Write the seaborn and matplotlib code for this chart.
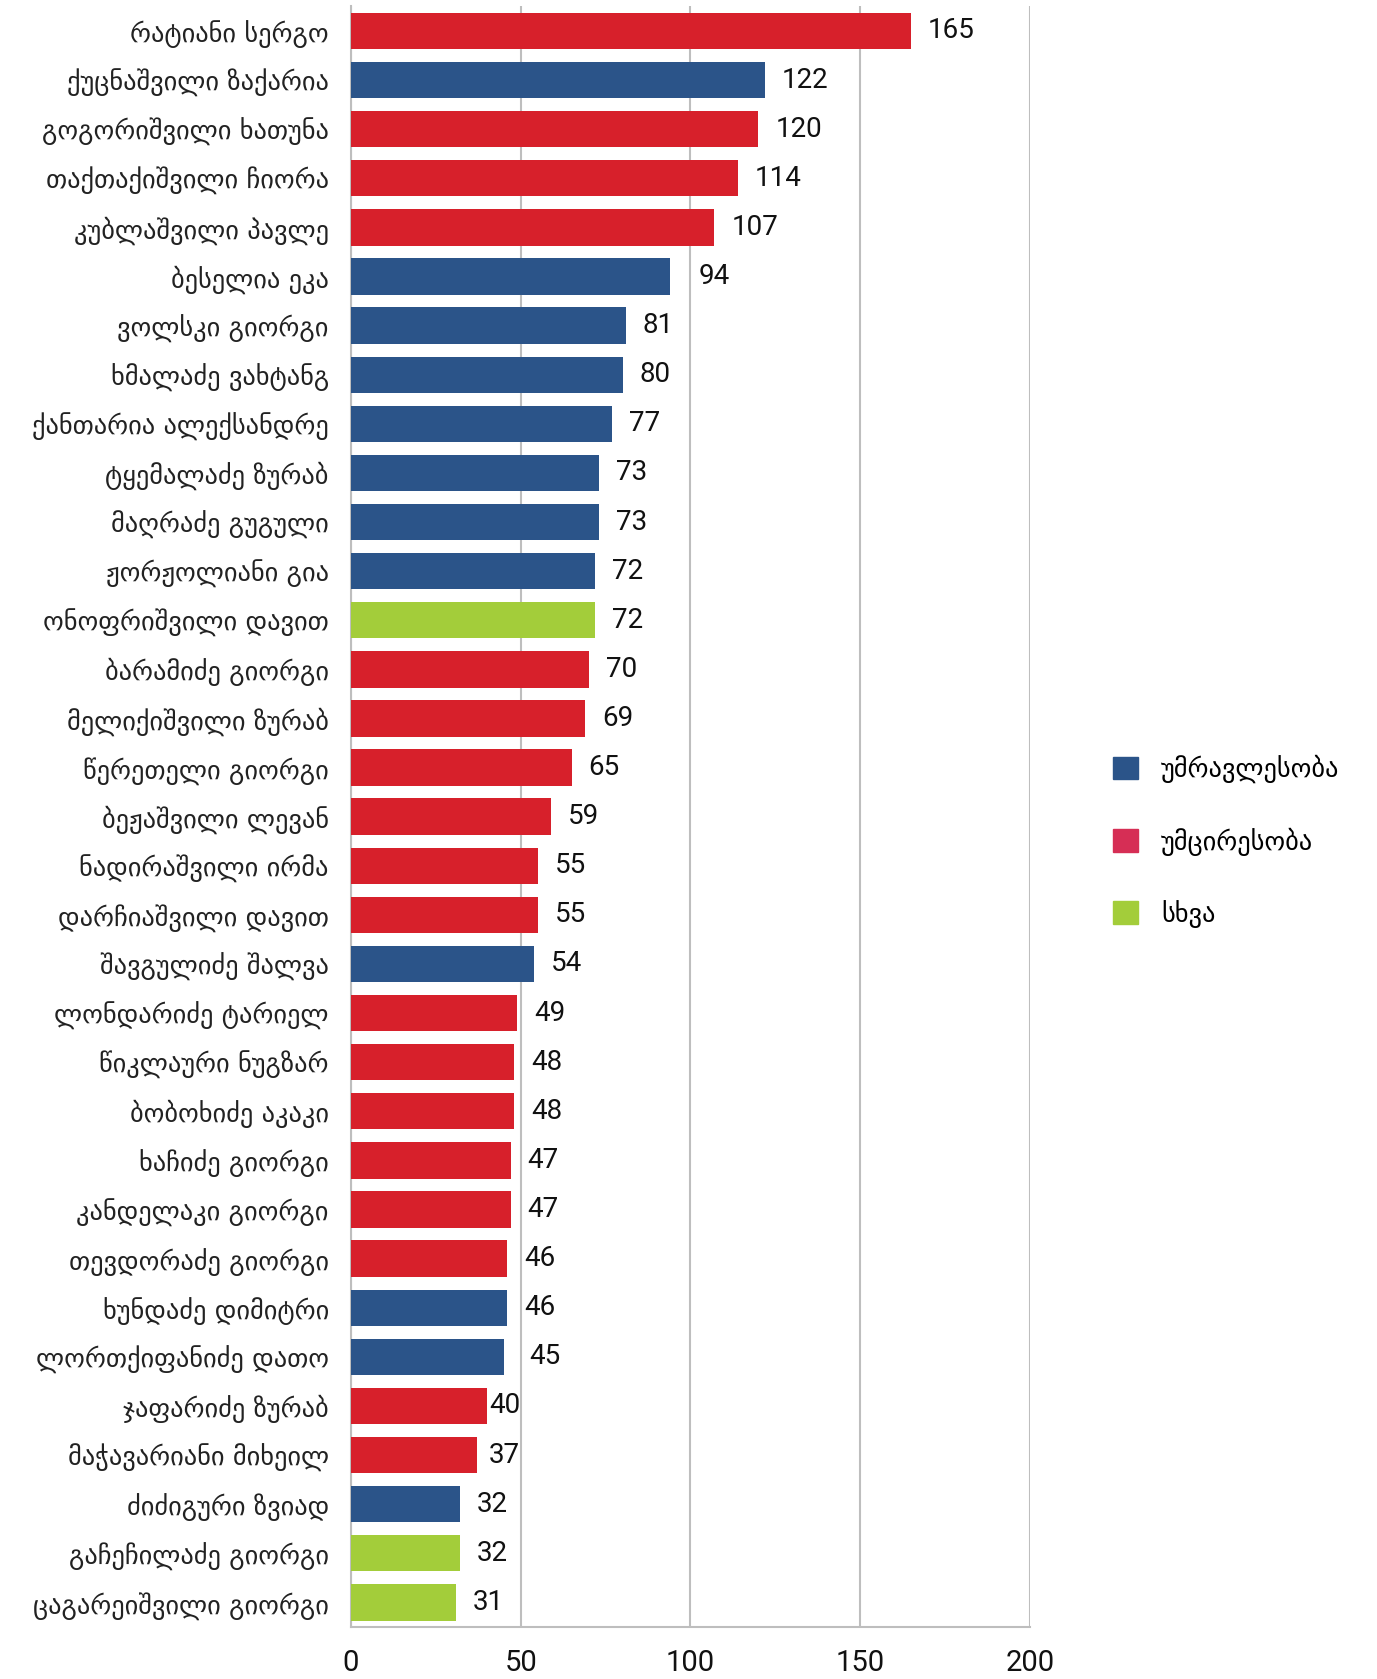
import matplotlib
matplotlib.use('Agg')
import matplotlib.pyplot as plt
import matplotlib.patches as mpatches
import pandas as pd
import seaborn as sns

names = [
    'რატიანი სერგო', 'ქუცნაშვილი ზაქარია', 'გოგორიშვილი ხათუნა', 'თაქთაქიშვილი ჩიორა',
    'კუბლაშვილი პავლე', 'ბესელია ეკა', 'ვოლსკი გიორგი', 'ხმალაძე ვახტანგ',
    'ქანთარია ალექსანდრე', 'ტყემალაძე ზურაბ', 'მაღრაძე გუგული', 'ჟორჟოლიანი გია',
    'ონოფრიშვილი დავით', 'ბარამიძე გიორგი', 'მელიქიშვილი ზურაბ', 'წერეთელი გიორგი',
    'ბეჟაშვილი ლევან', 'ნადირაშვილი ირმა', 'დარჩიაშვილი დავით', 'შავგულიძე შალვა',
    'ლონდარიძე ტარიელ', 'წიკლაური ნუგზარ', 'ბობოხიძე აკაკი', 'ხაჩიძე გიორგი',
    'კანდელაკი გიორგი', 'თევდორაძე გიორგი', 'ხუნდაძე დიმიტრი', 'ლორთქიფანიძე დათო',
    'ჯაფარიძე ზურაბ', 'მაჭავარიანი მიხეილ', 'ძიძიგური ზვიად', 'გაჩეჩილაძე გიორგი',
    'ცაგარეიშვილი გიორგი',
]
values = [165, 122, 120, 114, 107, 94, 81, 80, 77, 73, 73, 72, 72, 70, 69, 65, 59, 55, 55, 54,
          49, 48, 48, 47, 47, 46, 46, 45, 40, 37, 32, 32, 31]
# group of each person: maj = majority, min = minority, oth = other
groups = ['min', 'maj', 'min', 'min', 'min', 'maj', 'maj', 'maj', 'maj', 'maj', 'maj', 'maj',
          'oth', 'min', 'min', 'min', 'min', 'min', 'min', 'maj', 'min', 'min', 'min', 'min',
          'min', 'min', 'maj', 'maj', 'min', 'min', 'maj', 'oth', 'oth']
legend_labels = ['უმრავლესობა', 'უმცირესობა', 'სხვა']

bar_colors = {'maj': '#2B5489', 'min': '#D7202B', 'oth': '#A3CD3A'}
legend_colors = ['#2B5489', '#D62E55', '#A3CD3A']

df = pd.DataFrame({'name': names, 'value': values, 'group': groups})

num_font = ['Roboto', 'DejaVu Sans']
grid_lines = [50, 100, 150, 200]

fig = plt.figure(figsize=(13.77, 16.79), dpi=100)
ax = fig.add_axes([0.2549, 0.031, 0.4931, 0.9652])

sns.barplot(data=df, y='name', x='value', hue='group', palette=bar_colors, dodge=False,
            legend=False, width=0.74, errorbar=None, saturation=1, ax=ax, zorder=3)

ax.set_xlim(0, 200)
ax.set_xticks([0, 50, 100, 150, 200])
ax.set_xlabel('')
ax.set_ylabel('')
ax.grid(axis='x', color='#BEBEBE', linewidth=1.5, zorder=0)
ax.grid(axis='y', visible=False)
for side in ['top', 'right']:
    ax.spines[side].set_visible(False)
for side in ['left', 'bottom']:
    ax.spines[side].set_color('#BEBEBE')
    ax.spines[side].set_linewidth(1.5)
ax.tick_params(axis='both', length=0)
ax.tick_params(axis='x', pad=16)
ax.tick_params(axis='y', pad=16)
for lab in ax.get_yticklabels():
    lab.set_fontfamily('DejaVu Sans')
    lab.set_fontsize(19)
    lab.set_color('#222222')
for lab in ax.get_xticklabels():
    lab.set_fontfamily(num_font)
    lab.set_fontsize(21)
    lab.set_color('#111111')

# value labels: keep them clear of the vertical gridlines
for i, v in enumerate(values):
    w = 9.0 if v < 100 else 13.0
    start = v + 5
    for g in grid_lines:
        if start - 1 < g < start + w:
            if g - v >= w + 1:
                start = min(v + 5, g - w - 0.4)
            else:
                start = g + 2.5
    ax.text(start, i, str(v), va='center', ha='left', fontsize=20,
            family=num_font, color='#111111')

handles = [mpatches.Patch(color=c) for c in legend_colors]
fig.legend(handles, legend_labels, loc='center left', bbox_to_anchor=(0.799, 0.499),
           frameon=False, handlelength=0.95, handleheight=0.95, handletextpad=0.85,
           labelspacing=1.67, borderpad=0, prop={'family': 'DejaVu Sans', 'size': 19})

fig.savefig('out.png', dpi=100, facecolor='white')
